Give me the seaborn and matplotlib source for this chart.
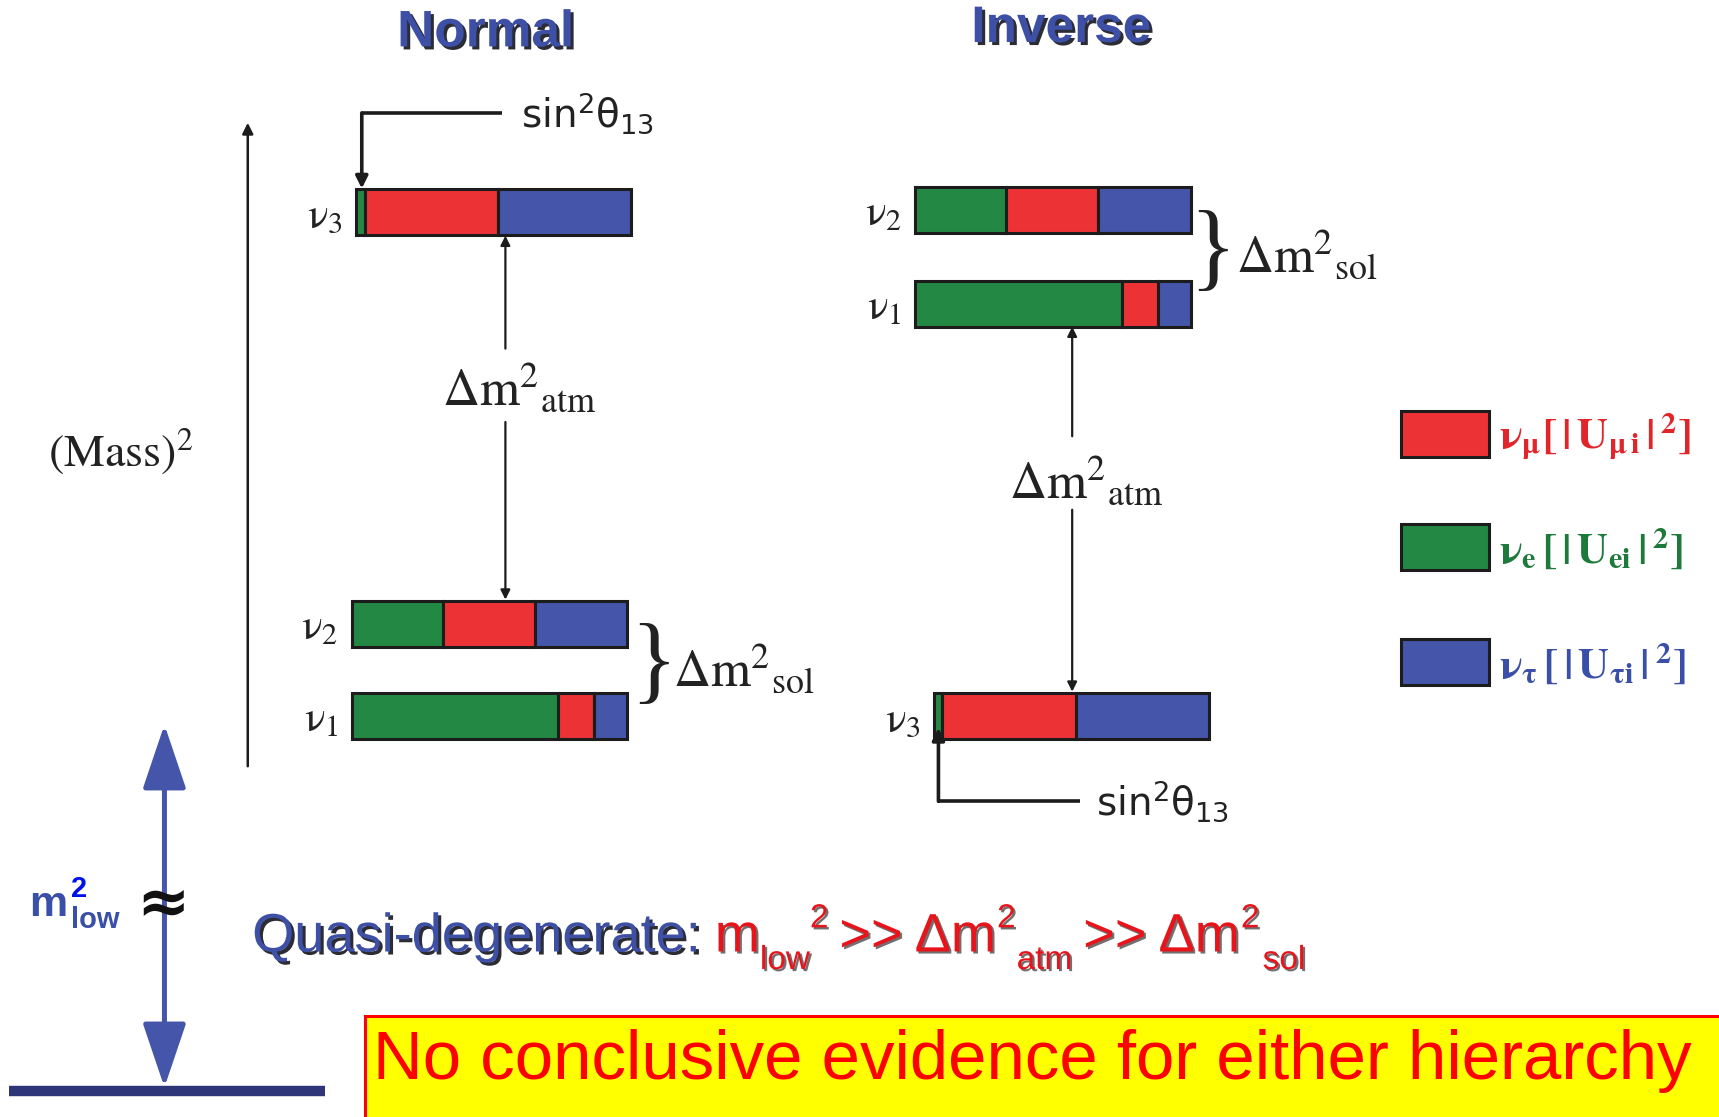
import matplotlib
matplotlib.use("Agg")
import matplotlib.pyplot as plt
import matplotlib.patheffects as pe
from matplotlib.patches import Rectangle, FancyArrowPatch
import seaborn as sns
import pandas as pd

# ---------------- data ----------------
hierarchies = ["Normal", "Inverse"]
mass_states = ["3", "2", "1"]                 # nu_3, nu_2, nu_1
frac_e = [0.03, 0.33, 0.75]                   # |U_ei|^2
frac_mu = [0.485, 0.335, 0.13]                # |U_mu i|^2
frac_tau = [0.485, 0.335, 0.12]               # |U_tau i|^2
flavours = ["e", "mu", "tau"]
flavour_colors = {"mu": "#ED3236", "e": "#238843", "tau": "#4455AA"}
legend_labels = {
    "mu": r"$\mathbf{\nu_{\mu}[\,|\,U_{\mu\,i}\,|\,^{2}]}$",
    "e": r"$\mathbf{\nu_{e}\,[\,|\,U_{ei}\,|\,^{2}]}$",
    "tau": r"$\mathbf{\nu_{\tau}\,[\,|\,U_{\tau i}\,|\,^{2}]}$",
}
legend_text_colors = {"mu": "#E0262B", "e": "#1E7A3A", "tau": "#3A4FA8"}
headline = "No conclusive evidence for either hierarchy"
quasi_label = "Quasi-degenerate:"
# (text, baseline offset, gap before, size class)
quasi_relation = [("m", 0, 0, "big"), ("low", 16, 0, "small"), ("2", -22, 0, "small"),
                  (">>", 0, 10, "big"), ("Δm", 0, 11, "big"), ("2", -22, 1, "small"),
                  ("atm", 16, 1, "small"), (">>", 0, 10, "big"), ("Δm", 0, 11, "big"),
                  ("2", -22, 1, "small"), ("sol", 16, 3, "small")]

# ---------------- layout (reference pixel grid 1568 x 1019) ----------------
level_y = {"Normal": {"3": 193.5, "2": 569, "1": 653.5},
           "Inverse": {"2": 192, "1": 277, "3": 653.5}}
level_x0 = {"Normal": {"3": 325, "2": 321, "1": 321},
            "Inverse": {"2": 835, "1": 835, "3": 852}}
BAR_LEN = 251
BAR_H = 42

rows = []
for h in hierarchies:
    for i, s in enumerate(mass_states):
        for f, vals in zip(flavours, [frac_e, frac_mu, frac_tau]):
            rows.append(dict(hier=h, state=s, flavour=f, frac=vals[i]))
df = pd.DataFrame(rows)

sns.set_theme(style="white")
plt.rcParams["font.family"] = ["DejaVu Sans"]

W, H = 1719, 1117
fig = plt.figure(figsize=(W / 100, H / 100), dpi=100)
ax = fig.add_axes([0, 0, 1, 1])
ax.set_xlim(0, 1568)
ax.set_ylim(1019, 0)
ax.axis("off")

INK = "#1c1c1c"
SANS = ["Liberation Sans", "DejaVu Sans"]
shadow = [pe.withSimplePatchShadow(offset=(2.2, -2.2), shadow_rgbFace="#15151f", alpha=0.9)]

# ---------------- stacked bars ----------------
for (h, s), g in df.groupby(["hier", "state"], sort=False):
    left = level_x0[h][s]
    y = level_y[h][s]
    for _, r in g.iterrows():
        w = r["frac"] * BAR_LEN
        ax.barh(y, w, left=left, height=BAR_H, color=flavour_colors[r["flavour"]],
                edgecolor=INK, linewidth=2.2, zorder=3)
        left += w
    ax.text(level_x0[h][s] - 13, y + 3, r"$\mathrm{\nu}_{%s}$" % s, ha="right", va="center",
            fontsize=31, color="#222", math_fontfamily="stix")

# ---------------- titles ----------------
ax.text(443, 30, "Normal", ha="center", va="center", fontsize=37, fontweight="bold",
        family=SANS, color="#3D50A6", path_effects=shadow)
ax.text(968, 26, "Inverse", ha="center", va="center", fontsize=37, fontweight="bold",
        family=SANS, color="#3D50A6", path_effects=shadow)

# ---------------- mass axis ----------------
ax.annotate("", xy=(226, 112), xytext=(226, 699),
            arrowprops=dict(arrowstyle="-|>", lw=1.8, color=INK, mutation_scale=16,
                            shrinkA=0, shrinkB=0))
ax.text(110, 412, r"$\mathrm{(Mass)}^{2}$", ha="center", va="center", fontsize=33,
        color="#222", math_fontfamily="stix")

# ---------------- sin^2 theta13 pointers ----------------
def arrow(p0, p1, lw=1.6, ms=14):
    ax.annotate("", xy=p1, xytext=p0,
                arrowprops=dict(arrowstyle="-|>", lw=lw, color=INK, mutation_scale=ms,
                                shrinkA=0, shrinkB=0), zorder=4)

ax.plot([458, 330], [103, 103], color=INK, lw=2.6, solid_capstyle="butt")
arrow((330, 103), (330, 172), lw=2.6, ms=18)
ax.text(475, 103, r"$\mathrm{sin}^{2}\mathrm{\theta}_{13}$", ha="left", va="center",
        fontsize=28, color="#222", math_fontfamily="dejavusans")

ax.plot([985, 856], [731, 731], color=INK, lw=2.6, solid_capstyle="butt")
arrow((856, 731), (856, 664), lw=2.6, ms=18)
ax.text(1000, 731, r"$\mathrm{sin}^{2}\mathrm{\theta}_{13}$", ha="left", va="center",
        fontsize=28, color="#222", math_fontfamily="dejavusans")

# ---------------- atmospheric splittings ----------------
arrow((461, 318), (461, 215))
arrow((461, 385), (461, 547))
ax.text(403, 355, r"$\Delta\mathrm{m}^{2}{}_{\mathrm{atm}}$", ha="left", va="center",
        fontsize=37, color="#222", math_fontfamily="stix")

arrow((978, 398), (978, 298))
arrow((978, 465), (978, 631))
ax.text(920, 440, r"$\Delta\mathrm{m}^{2}{}_{\mathrm{atm}}$", ha="left", va="center",
        fontsize=37, color="#222", math_fontfamily="stix")

# ---------------- solar splittings ----------------
for bx, by, tx in [(596, 609, 614), (1106, 232, 1127)]:
    ax.text(bx, by, "}", ha="center", va="center", fontsize=70, color="#222",
            family=["Liberation Serif", "DejaVu Serif"])
    ax.text(tx, by + 2, r"$\Delta\mathrm{m}^{2}{}_{\mathrm{sol}}$", ha="left", va="center",
            fontsize=37, color="#222", math_fontfamily="stix")

# ---------------- legend ----------------
for f, ly in [("mu", 396), ("e", 499), ("tau", 604)]:
    ax.add_patch(Rectangle((1278, ly - 21), 80, 42, facecolor=flavour_colors[f],
                           edgecolor=INK, linewidth=2.2, zorder=3))
    ax.text(1367, ly + 2, legend_labels[f], ha="left", va="center", fontsize=31,
            color=legend_text_colors[f], math_fontfamily="stix")

# ---------------- m_low arrow ----------------
ax.add_patch(FancyArrowPatch((150, 992), (150, 661), arrowstyle="<|-|>,head_length=40,head_width=13.5",
                             mutation_scale=1, lw=3.6, color="#4455AA", shrinkA=0, shrinkB=0, zorder=4))
ax.plot([8, 296], [995, 995], color="#2E3578", lw=7.5, solid_capstyle="butt", zorder=3)
ax.text(149, 826, "≈", ha="center", va="center", fontsize=46, fontweight="bold", color="#111", zorder=5)
ax.text(27, 836, "m", ha="left", va="baseline", fontsize=31, fontweight="bold",
        family=SANS, color="#3A4FA8")
ax.text(65, 818, "2", ha="left", va="baseline", fontsize=21, fontweight="bold",
        family=SANS, color="#0010EE")
ax.text(65, 847, "low", ha="left", va="baseline", fontsize=21, fontweight="bold",
        family=SANS, color="#3A4FA8")

# ---------------- quasi-degenerate statement ----------------
BASE = 868
ax.text(230, BASE, quasi_label, ha="left", va="baseline", fontsize=39,
        family=SANS, color="#3D50A6", path_effects=shadow)
red = "#E8141C"
renderer = fig.canvas.get_renderer()
inv = ax.transData.inverted()
x = 652
sizes = {"big": 39, "small": 24}
for t, dy, gap, sz in quasi_relation:
    txt = ax.text(x + gap, BASE + dy, t, ha="left", va="baseline", fontsize=sizes[sz],
                  family=SANS, color=red,
                  path_effects=[pe.withSimplePatchShadow(offset=(1.5, -1.5), shadow_rgbFace="#333",
                                                         alpha=0.7)])
    bb = txt.get_window_extent(renderer=renderer)
    x = inv.transform((bb.x1, bb.y0))[0]

# ---------------- headline box ----------------
ax.add_patch(Rectangle((333, 927), 1300, 120, facecolor="#FFFF00", edgecolor="#FF0000",
                       linewidth=2.2, zorder=2, clip_on=True))
ax.text(340, 984, headline, ha="left", va="baseline", fontsize=49.7,
        family=SANS, color="#FF0000", zorder=3)

fig.savefig("out.png", dpi=100)
